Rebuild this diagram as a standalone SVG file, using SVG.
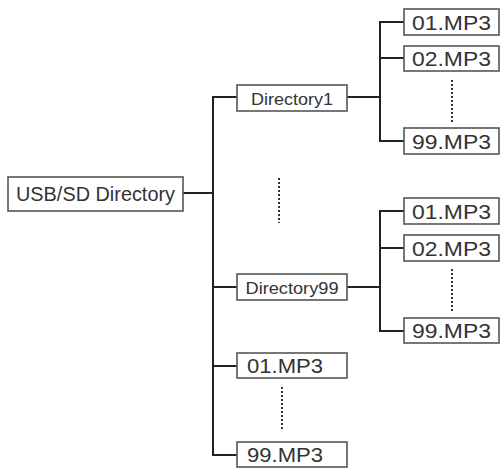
<svg xmlns="http://www.w3.org/2000/svg" width="504" height="470" viewBox="0 0 504 470">
<style>
.box{fill:#fff;stroke:#555;stroke-width:1.6}
.t{font-family:"Liberation Sans",Arial,sans-serif;fill:#333;text-anchor:middle}
.big{font-size:21px}
.mid{font-size:17px}
.ln{fill:none;stroke:#222;stroke-width:2}
.dot{fill:none;stroke:#333;stroke-width:2;stroke-dasharray:2 2}
</style>
<rect width="504" height="470" fill="#fff"/>
<g id="connectors">
<path class="ln" d="M183 193H213M237 97H213V455H237M213 287H237M213 366H237"/>
<path class="ln" d="M347 97H380M404 22H380V141H404M380 58H404"/>
<path class="ln" d="M347 287H380M404 211H380V331H404M380 248H404"/>
<path class="dot" d="M279 178V223M452 80V124M452 269V313M282 387V431"/>
</g>
<g id="root"><rect class="box" x="8" y="177" width="175" height="34"/><text class="t" x="95.5" y="201" font-size="20" textLength="159" lengthAdjust="spacingAndGlyphs">USB/SD Directory</text></g>
<g id="dir1"><rect class="box" x="237" y="85" width="110" height="26"/><text class="t mid" x="292" y="105" textLength="82" lengthAdjust="spacingAndGlyphs">Directory1</text></g>
<g id="dir99"><rect class="box" x="237" y="274" width="110" height="26"/><text class="t mid" x="292" y="294" textLength="93" lengthAdjust="spacingAndGlyphs">Directory99</text></g>
<g id="d1f01"><rect class="box" x="404" y="9" width="95" height="26"/><text class="t big" x="451.5" y="30" textLength="79" lengthAdjust="spacingAndGlyphs">01.MP3</text></g>
<g id="d1f02"><rect class="box" x="404" y="46" width="95" height="25"/><text class="t big" x="451.5" y="66" textLength="79" lengthAdjust="spacingAndGlyphs">02.MP3</text></g>
<g id="d1f99"><rect class="box" x="404" y="128" width="95" height="26"/><text class="t big" x="451.5" y="149" textLength="79" lengthAdjust="spacingAndGlyphs">99.MP3</text></g>
<g id="d99f01"><rect class="box" x="404" y="198" width="95" height="26"/><text class="t big" x="451.5" y="219" textLength="79" lengthAdjust="spacingAndGlyphs">01.MP3</text></g>
<g id="d99f02"><rect class="box" x="404" y="235" width="95" height="26"/><text class="t big" x="451.5" y="256" textLength="79" lengthAdjust="spacingAndGlyphs">02.MP3</text></g>
<g id="d99f99"><rect class="box" x="404" y="318" width="95" height="25"/><text class="t big" x="451.5" y="338" textLength="79" lengthAdjust="spacingAndGlyphs">99.MP3</text></g>
<g id="f01"><rect class="box" x="237" y="353" width="110" height="25"/><text class="t big" x="285" y="373" textLength="76" lengthAdjust="spacingAndGlyphs">01.MP3</text></g>
<g id="f99"><rect class="box" x="237" y="442" width="110" height="25"/><text class="t big" x="285" y="462" textLength="76" lengthAdjust="spacingAndGlyphs">99.MP3</text></g>
</svg>
